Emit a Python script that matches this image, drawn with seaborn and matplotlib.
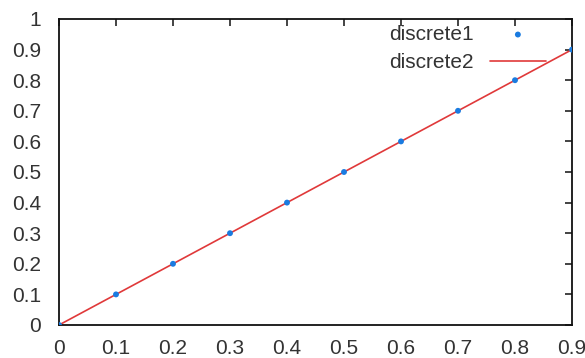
import matplotlib
matplotlib.use("Agg")
import matplotlib.pyplot as plt
import seaborn as sns
import pandas as pd

x_points = [0.0, 0.1, 0.2, 0.3, 0.4, 0.5, 0.6, 0.7, 0.8, 0.9]
y_points = [0.0, 0.1, 0.2, 0.3, 0.4, 0.5, 0.6, 0.7, 0.8, 0.9]
x_line = [0.0, 0.9]
y_line = [0.0, 0.9]
x_ticks = [0, 0.1, 0.2, 0.3, 0.4, 0.5, 0.6, 0.7, 0.8, 0.9]
x_ticklabels = ["0", "0.1", "0.2", "0.3", "0.4", "0.5", "0.6", "0.7", "0.8", "0.9"]
y_ticks = [0, 0.1, 0.2, 0.3, 0.4, 0.5, 0.6, 0.7, 0.8, 0.9, 1.0]
y_ticklabels = ["0", "0.1", "0.2", "0.3", "0.4", "0.5", "0.6", "0.7", "0.8", "0.9", "1"]

sns.set_style("white")
plt.rcParams["font.family"] = ["Liberation Sans", "DejaVu Sans"]

df_pts = pd.DataFrame({"x": x_points, "y": y_points})
df_line = pd.DataFrame({"x": x_line, "y": y_line})

fig = plt.figure(figsize=(5.85, 3.58), dpi=100)
ax = fig.add_axes([59/585, 1-325/358, (572-59)/585, (325-19)/358])

sns.lineplot(data=df_line, x="x", y="y", ax=ax, color="#e0393a", linewidth=1.2,
             label="discrete2", zorder=2)
sns.scatterplot(data=df_pts, x="x", y="y", ax=ax, color="#1a7be0", s=18,
                edgecolor="none", label="discrete1", zorder=3)

ax.set_xlim(0, 0.9)
ax.set_ylim(0, 1)
ax.set_xticks(x_ticks)
ax.set_xticklabels(x_ticklabels)
ax.set_yticks(y_ticks)
ax.set_yticklabels(y_ticklabels)
ax.set_xlabel("")
ax.set_ylabel("")

for s in ax.spines.values():
    s.set_color("#111111")
    s.set_linewidth(1.3)

ax.tick_params(axis="both", direction="in", length=5, width=1.1, color="#111111",
               top=True, right=True, labelsize=15, labelcolor="#333333")
ax.tick_params(axis="x", pad=10)
ax.tick_params(axis="y", pad=13)

handles, labels = ax.get_legend_handles_labels()
order = [labels.index("discrete1"), labels.index("discrete2")]
leg = ax.legend([handles[i] for i in order], [labels[i] for i in order],
                loc="upper right", frameon=False, markerfirst=False, fontsize=15,
                handlelength=2.7, handletextpad=0.75, labelspacing=0.45,
                borderaxespad=0.0, borderpad=0.0)
leg.set_bbox_to_anchor((546/585, 1-25/358), transform=fig.transFigure)
for t in leg.get_texts():
    t.set_color("#333333")

fig.savefig("out.png", dpi=100)
